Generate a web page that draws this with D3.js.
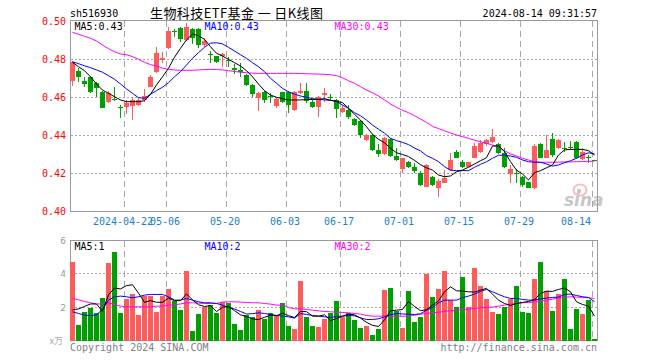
<!DOCTYPE html>
<html><head><meta charset="utf-8">
<script src="https://cdn.jsdelivr.net/npm/d3@7/dist/d3.min.js"></script>
<style>body{margin:0;background:#fff}svg{display:block}</style>
</head><body>
<script>
const dates = ["2024-04-09","2024-04-10","2024-04-11","2024-04-12","2024-04-15","2024-04-16","2024-04-17","2024-04-18","2024-04-19",
"2024-04-22","2024-04-23","2024-04-24","2024-04-25","2024-04-26","2024-04-29","2024-04-30",
"2024-05-06","2024-05-07","2024-05-08","2024-05-09","2024-05-10","2024-05-13","2024-05-14","2024-05-15","2024-05-16","2024-05-17",
"2024-05-20","2024-05-21","2024-05-22","2024-05-23","2024-05-24","2024-05-27","2024-05-28","2024-05-29","2024-05-30","2024-05-31",
"2024-06-03","2024-06-04","2024-06-05","2024-06-06","2024-06-07","2024-06-11","2024-06-12","2024-06-13","2024-06-14",
"2024-06-17","2024-06-18","2024-06-19","2024-06-20","2024-06-21","2024-06-24","2024-06-25","2024-06-26","2024-06-27","2024-06-28",
"2024-07-01","2024-07-02","2024-07-03","2024-07-04","2024-07-05","2024-07-08","2024-07-09","2024-07-10","2024-07-11","2024-07-12",
"2024-07-15","2024-07-16","2024-07-17","2024-07-18","2024-07-19","2024-07-22","2024-07-23","2024-07-24","2024-07-25","2024-07-26",
"2024-07-29","2024-07-30","2024-07-31","2024-08-01","2024-08-02","2024-08-05","2024-08-06","2024-08-07","2024-08-08","2024-08-09",
"2024-08-12","2024-08-13","2024-08-14"];

const opens = [0.4686,0.4739,0.4686,0.4705,0.4674,0.4630,0.4577,0.4590,0.4549,0.4547,0.4554,0.4558,0.4586,0.4656,0.4735,0.4796,
0.4858,0.4951,0.4963,0.4902,0.4958,0.4960,0.4874,0.4828,0.4818,0.4819,0.4797,0.4756,0.4744,0.4718,0.4665,0.4595,0.4626,0.4605,0.4554,0.4630,
0.4630,0.4533,0.4621,0.4633,0.4577,0.4547,0.4614,0.4604,0.4586,0.4525,0.4533,0.4486,0.4475,0.4375,0.4402,0.4323,0.4302,0.4381,0.4291,
0.4221,0.4261,0.4235,0.4204,0.4130,0.4182,0.4125,0.4151,0.4218,0.4311,0.4258,0.4235,0.4282,0.4314,0.4354,0.4367,0.4354,0.4309,0.4195,0.4204,
0.4182,0.4153,0.4121,0.4353,0.4282,0.4379,0.4332,0.4333,0.4339,0.4367,0.4274,0.4284,0.4270];
const highs = [0.4790,0.4753,0.4705,0.4712,0.4682,0.4632,0.4635,0.4656,0.4560,0.4586,0.4600,0.4595,0.4642,0.4718,0.4863,0.4837,
0.4972,0.4958,0.4972,0.4993,0.4963,0.4963,0.4910,0.4846,0.4818,0.4832,0.4814,0.4775,0.4779,0.4723,0.4668,0.4630,0.4633,0.4621,0.4595,0.4630,
0.4635,0.4635,0.4677,0.4677,0.4589,0.4607,0.4647,0.4616,0.4589,0.4560,0.4560,0.4489,0.4481,0.4405,0.4405,0.4354,0.4389,0.4384,0.4332,
0.4282,0.4267,0.4256,0.4214,0.4250,0.4186,0.4172,0.4218,0.4305,0.4323,0.4270,0.4261,0.4361,0.4375,0.4381,0.4433,0.4358,0.4332,0.4244,0.4221,
0.4186,0.4156,0.4353,0.4358,0.4402,0.4411,0.4381,0.4367,0.4372,0.4370,0.4332,0.4296,0.4270];
const lows = [0.4661,0.4682,0.4656,0.4621,0.4604,0.4542,0.4572,0.4580,0.4493,0.4511,0.4481,0.4554,0.4577,0.4653,0.4730,0.4779,
0.4853,0.4919,0.4893,0.4896,0.4881,0.4858,0.4867,0.4782,0.4780,0.4758,0.4761,0.4723,0.4709,0.4660,0.4600,0.4530,0.4572,0.4572,0.4542,0.4572,
0.4519,0.4530,0.4618,0.4572,0.4542,0.4495,0.4577,0.4581,0.4493,0.4519,0.4484,0.4451,0.4384,0.4372,0.4319,0.4288,0.4296,0.4288,0.4267,
0.4200,0.4226,0.4200,0.4133,0.4126,0.4133,0.4077,0.4147,0.4214,0.4279,0.4226,0.4232,0.4279,0.4309,0.4344,0.4361,0.4300,0.4230,0.4151,0.4147,
0.4130,0.4121,0.4118,0.4279,0.4279,0.4288,0.4328,0.4314,0.4323,0.4274,0.4270,0.4253,0.4263];
const closes = [0.4788,0.4709,0.4668,0.4630,0.4647,0.4546,0.4625,0.4585,0.4546,0.4568,0.4586,0.4586,0.4607,0.4709,0.4832,0.4809,
0.4949,0.4949,0.4907,0.4972,0.4911,0.4875,0.4898,0.4825,0.4784,0.4826,0.4794,0.4744,0.4735,0.4665,0.4618,0.4625,0.4586,0.4602,0.4589,0.4577,
0.4560,0.4630,0.4633,0.4581,0.4547,0.4604,0.4621,0.4595,0.4537,0.4542,0.4498,0.4454,0.4402,0.4402,0.4323,0.4302,0.4384,0.4291,0.4270,
0.4279,0.4235,0.4214,0.4139,0.4246,0.4139,0.4160,0.4174,0.4270,0.4282,0.4235,0.4258,0.4344,0.4358,0.4375,0.4393,0.4305,0.4235,0.4223,0.4196,
0.4139,0.4125,0.4346,0.4282,0.4323,0.4296,0.4375,0.4330,0.4335,0.4279,0.4314,0.4281,0.4267];

const ma5 = [0.4784,0.4761,0.4740,0.4708,0.4670,0.4638,0.4621,0.4603,0.4586,0.4577,0.4577,0.4577,0.4582,0.4616,0.4665,0.4708,
0.4753,0.4811,0.4858,0.4902,0.4933,0.4924,0.4905,0.4866,0.4832,0.4817,0.4800,0.4782,0.4765,0.4740,0.4708,0.4670,0.4635,0.4612,0.4600,0.4593,
0.4586,0.4586,0.4586,0.4588,0.4589,0.4589,0.4593,0.4584,0.4579,0.4572,0.4542,0.4511,0.4480,0.4445,0.4405,0.4379,0.4361,0.4332,0.4308,
0.4299,0.4288,0.4268,0.4245,0.4229,0.4217,0.4191,0.4182,0.4186,0.4208,0.4217,0.4232,0.4249,0.4266,0.4282,0.4344,0.4344,0.4314,0.4261,0.4217,
0.4196,0.4165,0.4203,0.4214,0.4229,0.4244,0.4296,0.4323,0.4326,0.4326,0.4326,0.4319,0.4296];
const ma10 = [0.4787,0.4777,0.4766,0.4756,0.4744,0.4732,0.4714,0.4695,0.4670,0.4644,0.4621,0.4598,0.4595,0.4616,0.4635,0.4653,
0.4677,0.4708,0.4735,0.4770,0.4805,0.4835,0.4863,0.4885,0.4887,0.4881,0.4863,0.4844,0.4824,0.4805,0.4782,0.4761,0.4735,0.4700,0.4674,0.4647,
0.4629,0.4617,0.4607,0.4600,0.4593,0.4589,0.4586,0.4584,0.4579,0.4559,0.4542,0.4519,0.4503,0.4480,0.4454,0.4432,0.4411,0.4384,0.4372,
0.4363,0.4351,0.4333,0.4318,0.4293,0.4279,0.4261,0.4235,0.4216,0.4214,0.4214,0.4214,0.4232,0.4247,0.4261,0.4279,0.4295,0.4295,0.4291,0.4284,
0.4270,0.4261,0.4258,0.4258,0.4249,0.4238,0.4244,0.4256,0.4266,0.4279,0.4296,0.4308,0.4302];
const ma30 = [0.4942,0.4932,0.4921,0.4911,0.4896,0.4875,0.4856,0.4840,0.4828,0.4824,0.4814,0.4800,0.4784,0.4772,0.4765,0.4754,
0.4747,0.4744,0.4742,0.4742,0.4742,0.4744,0.4746,0.4747,0.4746,0.4744,0.4740,0.4736,0.4732,0.4729,0.4727,0.4726,0.4726,0.4726,0.4726,0.4726,
0.4726,0.4726,0.4725,0.4724,0.4723,0.4722,0.4721,0.4719,0.4714,0.4703,0.4687,0.4674,0.4656,0.4638,0.4624,0.4607,0.4586,0.4565,0.4547,
0.4532,0.4519,0.4503,0.4486,0.4468,0.4447,0.4435,0.4424,0.4412,0.4402,0.4393,0.4384,0.4374,0.4366,0.4358,0.4349,0.4337,0.4319,0.4302,0.4291,
0.4279,0.4270,0.4261,0.4258,0.4258,0.4258,0.4259,0.4260,0.4260,0.4261,0.4262,0.4263,0.4264];

const volumes = [4.72,0.93,1.73,1.97,1.63,2.57,4.66,5.33,1.67,2.49,2.79,1.53,2.69,2.69,1.73,2.69,
3.09,2.37,1.83,4.17,0.57,1.61,2.03,2.13,1.63,2.33,2.27,0.99,0.63,1.53,1.39,1.83,1.27,1.63,1.53,2.23,
0.87,0.69,3.59,1.39,0.87,0.83,1.27,1.67,2.37,1.39,1.67,1.23,0.77,0.87,0.34,0.69,3.03,3.17,1.80,
0.77,2.97,1.13,1.39,3.99,2.63,3.09,4.19,2.43,1.99,3.83,2.03,4.37,3.27,2.51,1.73,1.59,2.03,2.49,3.27,
1.73,1.67,3.69,4.73,2.97,1.79,2.79,3.69,0.69,1.89,1.59,2.43,0.10];
const vma5 = [1.85,1.90,2.05,2.20,2.20,1.75,2.75,3.15,3.10,3.30,3.35,2.85,2.30,2.40,2.30,2.30,
2.55,2.40,2.40,2.80,2.45,2.15,2.05,2.10,1.75,2.00,2.05,1.80,1.55,1.45,1.30,1.27,1.40,1.53,1.50,1.65,
1.50,1.39,1.75,1.74,1.47,1.47,1.55,1.20,1.33,1.47,1.59,1.55,1.35,1.10,0.92,0.85,1.25,1.79,1.83,
1.87,2.35,2.05,1.80,1.85,2.13,2.39,2.93,3.23,2.99,2.97,2.93,2.91,3.03,3.13,2.79,2.43,2.23,2.11,2.23,
2.29,2.35,2.45,2.83,2.97,2.95,3.07,3.15,2.93,2.33,2.17,2.07,1.47];
const vma10 = [1.73,1.63,1.53,1.51,1.55,1.87,2.43,2.63,2.67,2.63,2.57,2.63,2.73,2.77,2.77,2.77,
2.63,2.43,2.43,2.53,2.43,2.33,2.27,2.27,2.23,2.13,1.99,1.90,1.75,1.60,1.62,1.67,1.63,1.57,1.51,1.47,
1.43,1.35,1.63,1.57,1.51,1.47,1.43,1.39,1.45,1.47,1.51,1.49,1.37,1.27,1.27,1.31,1.43,1.55,1.63,
1.60,1.59,1.57,1.61,1.83,1.99,2.27,2.43,2.43,2.43,2.57,2.67,2.79,2.95,3.07,2.93,2.77,2.63,2.53,2.53,
2.47,2.43,2.43,2.51,2.55,2.59,2.61,2.77,2.79,2.71,2.63,2.59,2.33];
const vma30 = [2.53,2.45,2.35,2.27,2.20,2.20,2.27,2.17,2.07,2.03,2.03,2.03,2.03,2.03,2.07,2.07,
2.13,2.15,2.20,2.27,2.27,2.25,2.23,2.23,2.23,2.31,2.33,2.33,2.31,2.29,2.27,2.27,2.23,2.19,2.13,2.13,
1.99,1.91,1.91,1.87,1.83,1.79,1.75,1.73,1.71,1.69,1.67,1.63,1.59,1.51,1.47,1.47,1.47,1.47,1.47,
1.46,1.49,1.53,1.59,1.63,1.67,1.71,1.75,1.79,1.83,1.87,1.89,1.93,1.97,1.99,2.01,2.07,2.13,2.19,2.23,
2.27,2.29,2.31,2.37,2.43,2.49,2.55,2.59,2.63,2.61,2.59,2.57,2.53];

const priceTicks = [0.40,0.42,0.44,0.46,0.48,0.50];
const volTicks = [2,4,6];
const dateTicks = ["2024-04-22","2024-05-06","2024-05-20","2024-06-03","2024-06-17","2024-07-01","2024-07-15","2024-07-29","2024-08-14"];
const dateTickLabels = ["2024-04-22","05-06","05-20","06-03","06-17","07-01","07-15","07-29","08-14"];

const RED = "#ff5b5b", GREEN = "#00a000", GRID = "#a6a6a6", FRAME = "#999999";
const MONO = "'DejaVu Sans Mono', monospace";

const svg = d3.select("body").append("svg").attr("width", 660).attr("height", 360);

const x = d3.scaleBand().domain(dates).range([70, 597]).paddingInner(1/6).paddingOuter(0);
const y = d3.scaleLinear().domain([0.40, 0.50]).range([211.3, 21.3]);
const vy = d3.scaleLinear().domain([0, 6]).range([340.7, 240.5]);
const bw = x.bandwidth();

// grids
const grid = svg.append("g").attr("shape-rendering", "crispEdges");
grid.selectAll(".hg").data(priceTicks.filter(t => t > 0.405 && t < 0.495)).join("line")
  .attr("x1", 71).attr("x2", 597).attr("y1", d => Math.floor(y(d)) + 0.5).attr("y2", d => Math.floor(y(d)) + 0.5)
  .attr("stroke", GRID).attr("stroke-dasharray", "2,2");
grid.selectAll(".vhg").data(volTicks.filter(t => t < 6)).join("line")
  .attr("x1", 71).attr("x2", 597).attr("y1", d => Math.floor(vy(d)) + 0.5).attr("y2", d => Math.floor(vy(d)) + 0.5)
  .attr("stroke", GRID).attr("stroke-dasharray", "2,2");
[[21, 211], [241, 341]].forEach(([a, b]) => {
  grid.append("g").selectAll("line").data(dateTicks).join("line")
    .attr("x1", d => x(d) + 0.5).attr("x2", d => x(d) + 0.5).attr("y1", a).attr("y2", b)
    .attr("stroke", GRID).attr("stroke-dasharray", "6,4");
});

// frames
svg.append("rect").attr("x", 70.5).attr("y", 20.5).attr("width", 527).attr("height", 191)
  .attr("fill", "none").attr("stroke", FRAME).attr("shape-rendering", "crispEdges");
svg.append("rect").attr("x", 70.5).attr("y", 240.5).attr("width", 527).attr("height", 100)
  .attr("fill", "none").attr("stroke", FRAME).attr("shape-rendering", "crispEdges");

// sina logo
const logo = svg.append("g").attr("opacity", 0.55);
logo.append("ellipse").attr("cx", 580).attr("cy", 190).attr("rx", 6.5).attr("ry", 5.5)
  .attr("fill", "none").attr("stroke", "#f08a8a").attr("stroke-width", 2);
logo.append("circle").attr("cx", 579).attr("cy", 191).attr("r", 2.2).attr("fill", "#999");
logo.append("text").attr("x", 564).attr("y", 206).text("sina")
  .attr("font-family", "'DejaVu Sans', sans-serif").attr("font-size", 17).attr("font-weight", "bold")
  .attr("font-style", "italic").attr("fill", "#9a9a9a");

// candles
const idx = d3.range(dates.length);
const cg = svg.append("g").attr("shape-rendering", "crispEdges");
const col = i => closes[i] >= opens[i] ? RED : GREEN;
cg.selectAll(".wick").data(idx).join("rect")
  .attr("x", i => x(dates[i]) + 2).attr("width", 1)
  .attr("y", i => Math.round(y(highs[i])))
  .attr("height", i => Math.max(1, Math.round(y(lows[i])) - Math.round(y(highs[i]))))
  .attr("fill", col);
cg.selectAll(".body").data(idx).join("rect")
  .attr("x", i => x(dates[i])).attr("width", bw)
  .attr("y", i => Math.round(y(Math.max(opens[i], closes[i]))))
  .attr("height", i => Math.max(1, Math.round(y(Math.min(opens[i], closes[i]))) - Math.round(y(Math.max(opens[i], closes[i])))))
  .attr("fill", col);

// volume bars
cg.selectAll(".vol").data(idx).join("rect")
  .attr("x", i => x(dates[i])).attr("width", bw)
  .attr("y", i => Math.round(vy(volumes[i])))
  .attr("height", i => 341 - Math.round(vy(volumes[i])))
  .attr("fill", col);

// MA lines
const cx = i => x(dates[i]) + bw / 2;
const lineP = d3.line().x((d, i) => cx(i)).y(d => y(d));
const lineV = d3.line().x((d, i) => cx(i)).y(d => vy(d));
[[ma30, "#ff00ff"], [ma10, "#0000ff"], [ma5, "#000000"]].forEach(([arr, c]) => {
  svg.append("path").attr("d", lineP(arr)).attr("fill", "none").attr("stroke", c).attr("stroke-width", 1);
});
[[vma30, "#ff00ff"], [vma10, "#0000ff"], [vma5, "#000000"]].forEach(([arr, c]) => {
  svg.append("path").attr("d", lineV(arr)).attr("fill", "none").attr("stroke", c).attr("stroke-width", 1);
});

// axes
const ay = svg.append("g").attr("transform", "translate(70,0)")
  .call(d3.axisLeft(y).tickValues(priceTicks).tickFormat(d3.format(".2f")).tickSize(0).tickPadding(4));
ay.select(".domain").remove();
ay.selectAll("text").attr("fill", "#ff0000").attr("font-family", MONO).attr("font-size", 10);

const avy = svg.append("g").attr("transform", "translate(70,0)")
  .call(d3.axisLeft(vy).tickValues(volTicks).tickFormat(d3.format("d")).tickSize(0).tickPadding(4));
avy.select(".domain").remove();
avy.selectAll("text").attr("fill", "#999").attr("font-family", "'DejaVu Sans', sans-serif").attr("font-size", 9);

const ax = svg.append("g").attr("transform", "translate(-3.5,211.3)")
  .call(d3.axisBottom(x).tickValues(dateTicks).tickFormat((d, i) => dateTickLabels[i]).tickSize(0).tickPadding(6.5));
ax.select(".domain").remove();
ax.selectAll("text").attr("fill", "#1a7fd0").attr("font-family", MONO).attr("font-size", 10);
ax.selectAll(".tick").filter((d, i, n) => i === n.length - 1).select("text").attr("text-anchor", "end").attr("x", 0);

// texts
const T = (xx, yy, s, fill, opts = {}) => {
  const t = svg.append("text").attr("x", xx).attr("y", yy).text(s).attr("fill", fill)
    .attr("font-family", opts.font || MONO).attr("font-size", opts.size || 10);
  if (opts.anchor) t.attr("text-anchor", opts.anchor);
  if (opts.len) t.attr("textLength", opts.len).attr("lengthAdjust", "spacing");
  return t;
};
T(70, 16.5, "sh516930", "#000");
T(150, 17.5, "生物科技ETF基金 一 日K线图", "#000", {font: "'Noto Sans CJK SC', sans-serif", size: 13, len: 173});
T(597, 16.5, "2024-08-14 09:31:57", "#000", {anchor: "end"});
const last = a => a[a.length - 1];
T(74.5, 29.5, "MA5:" + last(ma5).toFixed(2), "#000");
T(204.5, 29.5, "MA10:" + last(ma10).toFixed(2), "#0000ff");
T(334.5, 29.5, "MA30:" + last(ma30).toFixed(2), "#ff00ff");
T(74.5, 249.5, "MA5:" + Math.floor(last(vma5)), "#000");
T(204.5, 249.5, "MA10:" + Math.floor(last(vma10)), "#0000ff");
T(334.5, 249.5, "MA30:" + Math.floor(last(vma30)), "#ff00ff");
T(63, 344, "x万", "#aaa", {font: "'Noto Sans CJK SC', sans-serif", size: 9, anchor: "end"});
T(70, 350.5, "Copyright 2024 SINA.COM", "#808080");
T(597, 350.5, "http://finance.sina.com.cn", "#808080", {anchor: "end"});
</script>
</body></html>
